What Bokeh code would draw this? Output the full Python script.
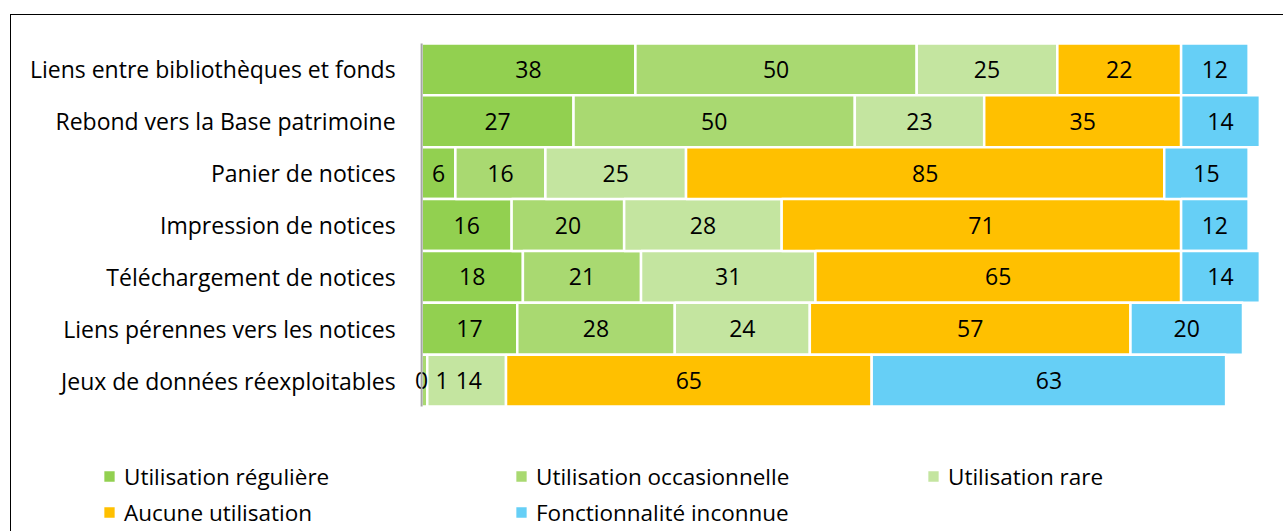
from bokeh.plotting import figure
from bokeh.models import ColumnDataSource, Range1d, Legend, LegendItem
from bokeh.core.properties import value
from bokeh.embed import file_html
from bokeh.resources import INLINE

# Survey: usage of catalogue features
features = [
    "Liens entre bibliothèques et fonds",
    "Rebond vers la Base patrimoine",
    "Panier de notices",
    "Impression de notices",
    "Téléchargement de notices",
    "Liens pérennes vers les notices",
    "Jeux de données réexploitables",
]
series = [
    "Utilisation régulière",
    "Utilisation occasionnelle",
    "Utilisation rare",
    "Aucune utilisation",
    "Fonctionnalité inconnue",
]
reguliere = [38, 27, 6, 16, 18, 17, 0]
occasionnelle = [50, 50, 16, 20, 21, 28, 1]
rare = [25, 23, 25, 28, 31, 24, 14]
aucune = [22, 35, 85, 71, 65, 57, 65]
inconnue = [12, 14, 15, 12, 14, 20, 63]

colors = ["#92D050", "#A9D971", "#C4E5A0", "#FFC000", "#66CFF6"]
FONT = "Open Sans"

values = [reguliere, occasionnelle, rare, aucune, inconnue]
n_rows = len(features)
# row centres, first feature on top
rows = [n_rows - i - 0.5 for i in range(n_rows)]

FRAME_W, FRAME_H = 1272, 516
X0, X1 = -72.9, 153.2
Y0, Y1 = -2.41, 7.54
PX_PER_UNIT = FRAME_W / (X1 - X0)

p = figure(
    x_range=Range1d(X0, X1), y_range=Range1d(Y0, Y1),
    frame_width=FRAME_W, frame_height=FRAME_H,
    min_border=0,
    output_backend="svg", toolbar_location=None,
    x_axis_location=None, y_axis_location=None,
)
p.margin = (14, 0, 0, 10)
p.styles = {"border-top": "1.5px solid black", "border-left": "1.5px solid black"}
p.outline_line_color = None
p.xgrid.visible = False
p.ygrid.visible = False

starts = [0] * n_rows
renderers = []
label_x, label_y, label_t = [], [], []
for name, vals, col in zip(series, values, colors):
    ends = [s + v for s, v in zip(starts, vals)]
    src = ColumnDataSource(dict(y=rows, left=starts, right=ends))
    r = p.hbar(y="y", left="left", right="right", height=1.0, source=src,
               fill_color=col, line_color="white", line_width=2.5)
    renderers.append(r)
    for y, s, e, v in zip(rows, starts, ends, vals):
        label_x.append((s + e) / 2)
        label_y.append(y)
        label_t.append(str(v))
    starts = ends

# push apart value labels that would collide inside a row
char_w = 12.5
offsets = [0.0] * len(label_x)
for i in range(n_rows):
    prev_right = None
    for k in range(len(series)):
        idx = k * n_rows + i
        w = char_w * len(label_t[idx])
        cx = label_x[idx] * PX_PER_UNIT
        if prev_right is not None and cx - w / 2 < prev_right + 8:
            offsets[idx] = prev_right + 8 + w / 2 - cx
            cx += offsets[idx]
        prev_right = cx + w / 2

lab_src = ColumnDataSource(dict(x=label_x, y=label_y, t=label_t, o=offsets))
p.text(x="x", y="y", text="t", x_offset="o", source=lab_src,
       text_align="center", text_baseline="middle",
       text_font=value(FONT), text_font_size="23px", text_color="#000000")

# category axis: line at zero and right-aligned labels
p.segment(x0=[0], y0=[0], x1=[0], y1=[n_rows], line_color="#A6A6A6", line_width=2)
cat_src = ColumnDataSource(dict(x=[0] * n_rows, y=rows, t=features))
p.text(x="x", y="y", text="t", source=cat_src, x_offset=-26,
       text_align="right", text_baseline="middle",
       text_font=value(FONT), text_font_size="23px", text_color="#000000")

# legend: 3 columns filled row by row (bokeh fills column-first, so interleave)
ncols, nrows_leg = 3, 2
grid_order = []
for c in range(ncols):
    for r_ in range(nrows_leg):
        k = r_ * ncols + c
        if k < len(series):
            grid_order.append(k)
legend = Legend(
    items=[LegendItem(label=series[k], renderers=[renderers[k]]) for k in grid_order],
    ncols=ncols, location=(90, 1),
    glyph_width=16, glyph_height=16, label_standoff=7,
    label_width=389, label_height=36, spacing=0, padding=0, margin=0,
    label_text_font=FONT, label_text_font_size="22.5px", label_text_color="#000000",
    border_line_color=None, background_fill_alpha=0,
)
p.add_layout(legend, "center")

open("out.html", "w").write(file_html(p, INLINE))
